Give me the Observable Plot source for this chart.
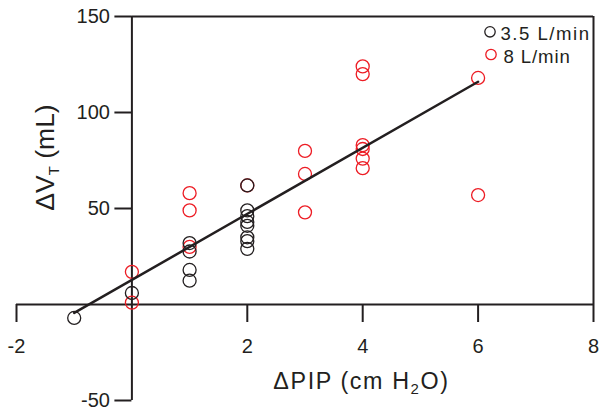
<!DOCTYPE html>
<html><head><meta charset="utf-8">
<script src="https://cdn.jsdelivr.net/npm/d3@7"></script>
<script src="https://cdn.jsdelivr.net/npm/@observablehq/plot@0.6"></script>
<style>body{margin:0;background:#fff} svg{display:block}</style>
</head><body><div id="chart"></div>
<script>
const seriesNames = ["3.5 L/min", "8 L/min"];
const seriesColors = ["#231f20", "#ed1c24"];
const lowPip = [-1, 0, 1, 1, 1, 1, 2, 2, 2, 2, 2, 2, 2, 2];
const lowVt  = [-7, 6, 32, 27.6, 18, 12.4, 62, 49, 46, 43, 41, 35, 33, 29];
const highPip = [0, 0, 1, 1, 1, 2, 3, 3, 3, 4, 4, 4, 4, 4, 4, 6, 6];
const highVt  = [17, 1, 58, 49, 30, 62, 80, 68, 48, 124, 120, 83, 81, 76, 71, 118, 57];
const xTicks = [-2, 2, 4, 6, 8];
const yTicks = [-50, 50, 100, 150];
const xDomain = [-2, 8];
const yDomain = [-50, 150];
const fitIntercept = 12.8, fitSlope = 17.2, fitRange = [-1, 6];
const xTitle = "ΔPIP (cm H2O)";
const yTitle = "ΔVT (mL)";

const ink = "#231f20";
const font = "Liberation Sans, Arial, sans-serif";

const low = lowPip.map((x, i) => ({x, y: lowVt[i]}));
const high = highPip.map((x, i) => ({x, y: highVt[i]}));
const fit = fitRange.map(x => ({x, y: fitIntercept + fitSlope * x}));

const legCircleDx = [-103.5, -102.5], legCircleDy = [15.3, 38];
const legTextDx = [-93, -90], legTextDy = [17.7, 40.7], legSpacing = [1.5, 0.9];
const legendMarks = seriesNames.flatMap((name, i) => {
  const at = {x: () => xDomain[1], y: () => yDomain[1]};
  return [
    Plot.dot([name], {...at, dx: legCircleDx[i], dy: legCircleDy[i], r: 5.2, stroke: seriesColors[i], strokeWidth: 1.3, fill: "none"}),
    Plot.text([name], {...at, dx: legTextDx[i], dy: legTextDy[i], text: d => d, textAnchor: "start", fontSize: 18.6, fill: ink})
  ];
});

const chart = Plot.plot({
  width: 599,
  height: 412,
  marginLeft: 16,
  marginRight: 6,
  marginTop: 16,
  marginBottom: 12,
  style: {fontFamily: font, background: "#fff"},
  x: {domain: xDomain, axis: null},
  y: {domain: yDomain, axis: null},
  marks: [
    Plot.ruleY([0], {x1: xDomain[0], x2: xDomain[1], stroke: ink, strokeWidth: 2}),
    Plot.ruleX([0], {y1: yDomain[0], y2: yDomain[1], stroke: ink, strokeWidth: 2}),
    Plot.ruleY([yDomain[1]], {x1: 0, x2: xDomain[1], stroke: ink, strokeWidth: 2}),
    Plot.ruleX([xDomain[1]], {y1: 0, y2: yDomain[1], stroke: ink, strokeWidth: 2}),
    Plot.ruleX(xTicks, {x: d => d, y1: 0, y2: 0, insetBottom: -18, stroke: ink, strokeWidth: 2}),
    Plot.ruleY(yTicks, {y: d => d, x1: 0, x2: 0, insetLeft: -17, stroke: ink, strokeWidth: 2}),
    Plot.text(xTicks, {x: d => d, y: 0, dy: 42, text: d => String(d), fontSize: 20, fill: ink}),
    Plot.text(yTicks, {x: 0, y: d => d, dx: -22, text: d => String(d), textAnchor: "end", fontSize: 20, fill: ink}),
    Plot.dot(high, {x: "x", y: "y", r: 6.5, stroke: seriesColors[1], strokeWidth: 1.3, fill: "none"}),
    Plot.dot(low, {x: "x", y: "y", r: 6.5, stroke: seriesColors[0], strokeWidth: 1.3, fill: "none"}),
    Plot.line(fit, {x: "x", y: "y", stroke: ink, strokeWidth: 2.5}),
    ...legendMarks,
    Plot.text([xTitle], {frameAnchor: "bottom", dx: 56.5, dy: -11.6, text: d => d, fontSize: 23.3, fill: ink}),
    Plot.text([yTitle], {frameAnchor: "left", dx: 29.5, dy: -51, rotate: -90, textAnchor: "middle", text: d => d, fontSize: 26.5, fill: ink})
  ]
});

d3.select(chart).selectAll("text").each(function() {
  const t = this.textContent;
  if (t === xTitle) {
    this.innerHTML = 'ΔPIP (cm H<tspan font-size="15" dy="5">2</tspan><tspan dy="-5">O)</tspan>';
    this.style.letterSpacing = "1.6px";
  } else if (t === yTitle) {
    this.innerHTML = 'ΔV<tspan font-size="15" dy="5">T</tspan><tspan dy="-5"> (mL)</tspan>';
  } else {
    const k = seriesNames.indexOf(t);
    if (k >= 0) this.style.letterSpacing = legSpacing[k] + "px";
  }
});

document.getElementById("chart").appendChild(chart);
</script>
</body></html>
